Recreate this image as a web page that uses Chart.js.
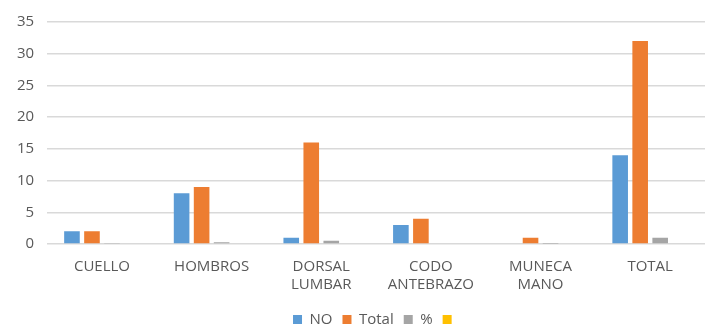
<!DOCTYPE html>
<html>
<head>
<meta charset="utf-8">
<script src="https://cdn.jsdelivr.net/npm/chart.js@4"></script>
<style>
  html, body { margin: 0; padding: 0; background: #fff; }
  #wrap { width: 707px; height: 325px; }
</style>
</head>
<body>
<div id="wrap"><canvas id="chart"></canvas></div>
<script>
// categories and series
const categories = ['CUELLO', 'HOMBROS', ['DORSAL', 'LUMBAR'], ['CODO', 'ANTEBRAZO'], ['MUNECA', 'MANO'], 'TOTAL'];
const noValues = [2, 8, 1, 3, 0, 14];
const totalValues = [2, 9, 16, 4, 1, 32];
const pctValues = [0.06, 0.28, 0.5, 0.13, 0.03, 1];
const extraValues = [0, 0, 0, 0, 0, 0];
const yTicks = [0, 5, 10, 15, 20, 25, 30, 35];

const textColor = '#595959';
const font = { family: 'Open Sans', size: 15, lineHeight: 1.2 };

// legend is centred under the plot area, not the whole canvas
const legendShift = {
  id: 'legendShift',
  beforeDraw(chart) {
    const lg = chart.legend;
    const dx = (chart.chartArea.left + chart.chartArea.right) / 2 - (lg.left + lg.right) / 2;
    lg.left += dx;
    lg.right += dx;
  }
};

new Chart(document.getElementById('chart').getContext('2d'), {
  type: 'bar',
  data: {
    labels: categories,
    datasets: [
      { label: 'NO', data: noValues, backgroundColor: '#5B9BD5' },
      { label: 'Total', data: totalValues, backgroundColor: '#ED7D31' },
      { label: '%', data: pctValues, backgroundColor: '#A5A5A5' },
      { label: '', data: extraValues, backgroundColor: '#FFC000' }
    ]
  },
  plugins: [legendShift],
  options: {
    responsive: true,
    maintainAspectRatio: false,
    animation: false,
    layout: { padding: { top: 14, right: 2, left: 4, bottom: -12 } },
    datasets: { bar: { categoryPercentage: 0.73, barPercentage: 0.78 } },
    plugins: {
      tooltip: { enabled: false },
      legend: {
        position: 'bottom',
        labels: {
          color: textColor,
          font: font,
          boxWidth: 9,
          boxHeight: 9,
          padding: 10
        }
      }
    },
    scales: {
      x: {
        grid: { display: false },
        border: { display: false },
        ticks: { color: textColor, font: font, maxRotation: 0, padding: 6 },
        afterFit: (axis) => { axis.height = 58; }
      },
      y: {
        min: 0,
        max: 35,
        afterBuildTicks: (axis) => { axis.ticks = yTicks.map(v => ({ value: v })); },
        grid: { color: '#d9d9d9', lineWidth: 1.5, drawTicks: false },
        border: { display: false },
        ticks: { color: textColor, font: font, padding: 13 }
      }
    }
  }
});
</script>
</body>
</html>
